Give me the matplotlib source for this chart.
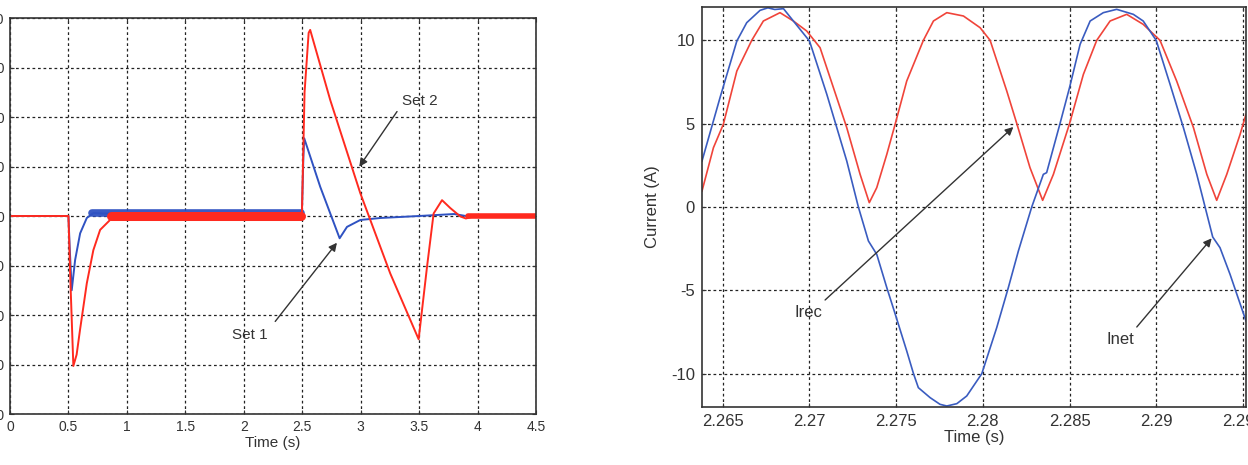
import matplotlib
matplotlib.use("Agg")
import matplotlib.pyplot as plt

plt.rcParams['font.family'] = ['Liberation Sans', 'DejaVu Sans']
plt.rcParams['axes.unicode_minus'] = False

# ---------------- Left panel data ----------------
set2_t = [0.0, 0.5, 0.515, 0.542, 0.57, 0.599, 0.657, 0.713, 0.771, 0.856, 0.95,
          2.497, 2.52, 2.555, 2.568, 2.74, 2.997, 3.253, 3.496, 3.568, 3.624,
          3.696, 3.767, 3.853, 3.9, 3.95, 4.5]
set2_v = [0.0, 0.0, -12.0, -30.3, -28.0, -23.0, -13.6, -6.9, -2.8, -0.8, -0.2,
          0.0, 25.0, 37.0, 37.6, 23.4, 4.6, -11.6, -24.9, -10.2, 0.5,
          3.2, 1.6, -0.1, -0.5, -0.2, 0.0]

set1_t = [0.0, 0.5, 0.51, 0.528, 0.557, 0.6, 0.657, 0.713, 0.8, 2.497,
          2.51, 2.517, 2.654, 2.82, 2.883, 2.997, 3.17, 3.5, 3.8, 3.9, 4.5]
set1_v = [0.0, 0.0, -6.0, -15.0, -8.9, -3.5, -0.4, 0.6, 0.5, 0.5,
          12.0, 15.7, 5.9, -4.5, -2.2, -0.8, -0.4, 0.0, 0.4, 0.0, 0.0]

# noisy stretches (drawn as thick strokes: measured trace thickness)
set2_noisy_t = [[0.86, 2.49], [3.92, 4.5]]
set2_noisy_v = [[-0.1, -0.1], [0.0, 0.0]]
set1_noisy_t = [[0.70, 2.49]]
set1_noisy_v = [[0.55, 0.55]]

left_yticks = [-40, -30, -20, -10, 0, 10, 20, 30, 40]
left_xticks = [0, 0.5, 1, 1.5, 2, 2.5, 3, 3.5, 4, 4.5]
left_xticklabels = ['0', '0.5', '1', '1.5', '2', '2.5', '3', '3.5', '4', '4.5']

# ---------------- Right panel data ----------------
inet_t = [2.2638, 2.26484, 2.26581, 2.26638, 2.26715, 2.2676, 2.2680, 2.2685,
          2.26907, 2.2700, 2.2710, 2.27215, 2.27282, 2.2734, 2.27388, 2.27446,
          2.27495, 2.27561, 2.2760, 2.27628, 2.27696, 2.27753, 2.27792, 2.27850,
          2.27907, 2.27994, 2.28080, 2.28147, 2.28205, 2.28282, 2.28349, 2.28368,
          2.28445, 2.2850, 2.28561, 2.28619, 2.28695, 2.28772, 2.28868, 2.28925,
          2.2900, 2.29080, 2.29157, 2.29234, 2.29282, 2.29326, 2.29368, 2.29426,
          2.29518]
inet_v = [2.76, 6.56, 9.96, 11.06, 11.8, 11.95, 11.85, 11.9,
          11.16, 9.96, 6.76, 2.76, 0.0, -2.04, -2.84, -4.84,
          -6.44, -8.64, -10.0, -10.84, -11.44, -11.84, -11.94, -11.8,
          -11.34, -10.0, -7.24, -4.84, -2.64, 0.0, 1.96, 2.06,
          5.0, 7.16, 9.76, 11.16, 11.66, 11.86, 11.56, 11.16,
          10.0, 7.36, 4.76, 1.96, 0.0, -1.8, -2.44, -4.04,
          -6.84]

irec_t = [2.2638, 2.26446, 2.26503, 2.26581, 2.26667, 2.26734, 2.26830, 2.26907,
          2.26984, 2.27061, 2.27138, 2.27215, 2.27292, 2.27345, 2.27388, 2.27446,
          2.27495, 2.27561, 2.27657, 2.27715, 2.27792, 2.27888, 2.27984, 2.28042,
          2.28138, 2.28196, 2.28272, 2.28345, 2.28407, 2.2850, 2.28580, 2.28657,
          2.28734, 2.28830, 2.28925, 2.29022, 2.29118, 2.29215, 2.29292, 2.29349,
          2.29407, 2.29484, 2.29518]
irec_v = [0.96, 3.56, 4.96, 8.16, 10.0, 11.16, 11.66, 11.16,
          10.56, 9.56, 7.16, 4.76, 1.96, 0.26, 1.16, 3.16,
          5.0, 7.56, 10.0, 11.16, 11.66, 11.46, 10.76, 10.0,
          6.96, 5.0, 2.36, 0.4, 1.96, 5.0, 7.96, 10.0,
          11.16, 11.56, 10.96, 10.0, 7.56, 4.76, 1.96, 0.4,
          1.96, 4.36, 5.56]

right_yticks = [-10, -5, 0, 5, 10]
right_xticks = [2.265, 2.27, 2.275, 2.28, 2.285, 2.29, 2.295]
right_xticklabels = ['2.265', '2.27', '2.275', '2.28', '2.285', '2.29', '2.295']

RED = '#ff2a1f'
BLUE = '#2f52c2'
RED2 = '#f0443a'
BLUE2 = '#3a5cc0'
TXT = '#333333'
GRID = dict(color='#222222', linestyle=(0, (2.2, 2.2)), linewidth=0.9)

fig = plt.figure(figsize=(12.48, 4.65), dpi=100)

# ---------- left ----------
ax1 = fig.add_axes([10 / 1248, 1 - 414 / 465, 526 / 1248, 396 / 465])
for t, v in zip(set1_noisy_t, set1_noisy_v):
    ax1.plot(t, v, color=BLUE, lw=5.5, solid_capstyle='round', alpha=0.95)
ax1.plot(set1_t, set1_v, color=BLUE, lw=1.4)
for t, v in zip(set2_noisy_t, set2_noisy_v):
    ax1.plot(t, v, color=RED, lw=6.5 if t[0] < 2 else 4.0, solid_capstyle='round')
ax1.plot(set2_t, set2_v, color=RED, lw=1.4)
ax1.set_xlim(0, 4.5)
ax1.set_ylim(-40, 40)
ax1.set_xticks(left_xticks)
ax1.set_xticklabels(left_xticklabels)
ax1.set_yticks(left_yticks)
ax1.set_xlabel('Time (s)', fontsize=11, color=TXT, labelpad=2)
ax1.grid(True, **GRID)
ax1.tick_params(direction='in', length=3, labelsize=10, colors=TXT,
                top=True, right=True, pad=4)

arrow = dict(arrowstyle='-|>', color=TXT, lw=1.0, mutation_scale=12,
             shrinkA=0, shrinkB=0)
ax1.annotate('', xy=(2.988, 9.96), xytext=(3.311, 21.1), arrowprops=arrow)
ax1.text(3.51, 23.2, 'Set 2', fontsize=11, color=TXT, ha='center', va='center')
ax1.annotate('', xy=(2.797, -5.4), xytext=(2.269, -21.3), arrowprops=arrow)
ax1.text(2.055, -24.0, 'Set 1', fontsize=11, color=TXT, ha='center', va='center')

# ---------- right ----------
ax2 = fig.add_axes([702 / 1248, 1 - 407 / 465, 544 / 1248, 400 / 465])
ax2.plot(irec_t, irec_v, color=RED2, lw=1.2)
ax2.plot(inet_t, inet_v, color=BLUE2, lw=1.2)
ax2.set_xlim(2.2638, 2.29518)
ax2.set_ylim(-12, 12)
ax2.set_xticks(right_xticks)
ax2.set_xticklabels(right_xticklabels)
ax2.set_yticks(right_yticks)
ax2.set_xlabel('Time (s)', fontsize=12, color=TXT, labelpad=1)
ax2.set_ylabel('Current (A)', fontsize=12, color=TXT, labelpad=8)
ax2.grid(True, **GRID)
ax2.tick_params(direction='in', length=3, labelsize=12, colors=TXT,
                top=True, right=True, pad=5)

ax2.annotate('', xy=(2.28176, 4.8), xytext=(2.2709, -5.58), arrowprops=arrow)
ax2.text(2.26992, -6.34, 'Irec', fontsize=12, color=TXT, ha='center', va='center')
ax2.annotate('', xy=(2.2932, -1.88), xytext=(2.28888, -7.2), arrowprops=arrow)
ax2.text(2.28791, -7.94, 'Inet', fontsize=12, color=TXT, ha='center', va='center')

for ax in (ax1, ax2):
    for s in ax.spines.values():
        s.set_color(TXT)
        s.set_linewidth(1.2)

fig.savefig('out.png', dpi=100)
